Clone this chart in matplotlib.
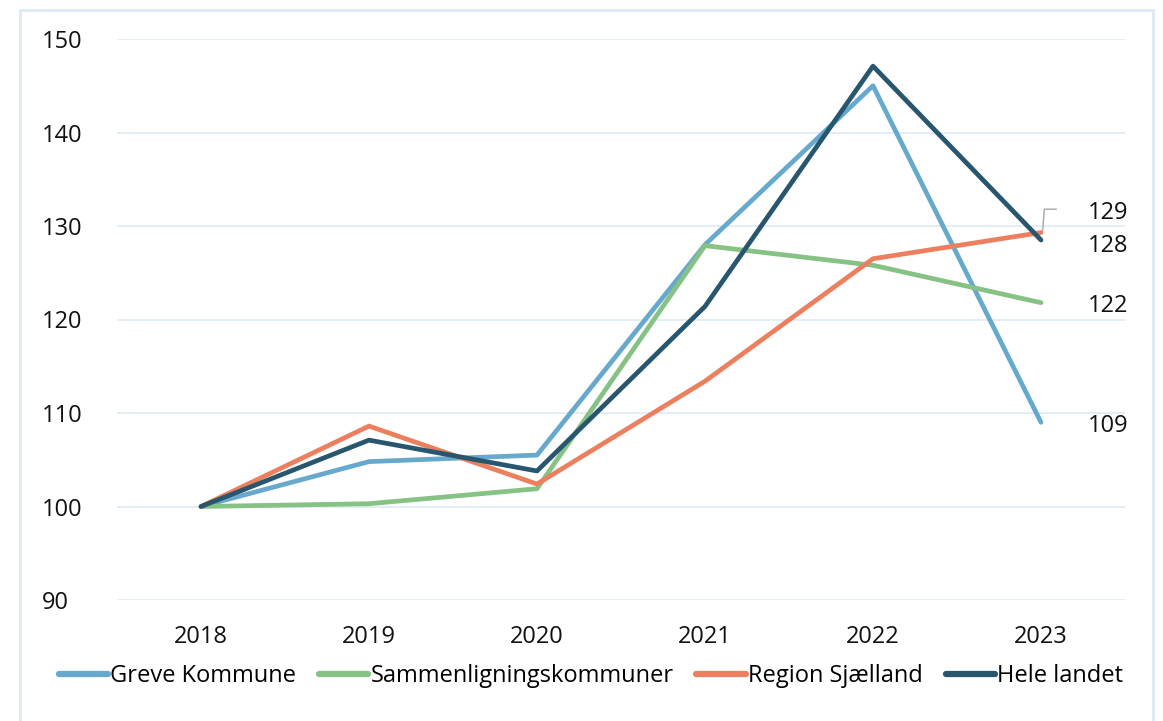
import matplotlib.pyplot as plt
from matplotlib.patches import Rectangle

plt.rcParams['font.family'] = ['Open Sans', 'DejaVu Sans']

years = ['2018', '2019', '2020', '2021', '2022', '2023']
greve = [100, 104.8, 105.5, 128.0, 145.0, 109.0]
sammen = [100, 100.3, 101.9, 127.9, 125.8, 121.8]
region = [100, 108.6, 102.4, 113.4, 126.5, 129.3]
hele = [100, 107.1, 103.8, 121.4, 147.1, 128.5]
names = ['Greve Kommune', 'Sammenligningskommuner', 'Region Sjælland', 'Hele landet']
colors = ['#67A9CC', '#85C284', '#EC7F5E', '#27566E']

grid_col = '#DDEAF4'

fig = plt.figure(figsize=(11.63, 7.21), dpi=100)
fig.patches.append(Rectangle((20 / 1163, -0.05), 1133 / 1163, 1.05 - 10 / 721,
                             transform=fig.transFigure, fill=False,
                             edgecolor=grid_col, linewidth=2))
ax = fig.add_axes([117 / 1163, 1 - 600 / 721, 1008 / 1163, 561 / 721])

x = range(len(years))
for vals, name, c in zip([greve, sammen, region, hele], names, colors):
    ax.plot(x, vals, color=c, linewidth=3.4, label=name, solid_capstyle='round')

ax.set_xlim(-0.5, 5.5)
ax.set_ylim(90, 150)
ax.set_yticks(range(90, 151, 10))
ax.set_xticks(list(x))
ax.set_xticklabels(years)
ax.yaxis.grid(True, color=grid_col, linewidth=1.2)
ax.set_axisbelow(True)
for s in ax.spines.values():
    s.set_visible(False)
ax.tick_params(axis='both', length=0, labelsize=17, colors='#111111')
ax.tick_params(axis='y', pad=54)
ax.tick_params(axis='x', pad=18)
for lbl in ax.get_yticklabels():
    lbl.set_horizontalalignment('left')

# end labels
ends = [109, 122, 128, 129]
label_y = [108.6, 121.4, 127.9, 131.4]
for txt, ly in zip(ends, label_y):
    ax.text(5.28, ly, str(txt), fontsize=17, va='center', ha='left', color='#111111')
ax.plot([5.01, 5.02, 5.09], [129.5, 131.8, 131.8], color='#A6A6A6', linewidth=1)

leg = fig.legend(loc='center', bbox_to_anchor=(591 / 1163, 1 - 676 / 721), ncol=4,
                 frameon=False, fontsize=17, handlelength=2.1, handletextpad=0.1,
                 columnspacing=0.95)
for h in leg.get_lines():
    h.set_linewidth(4.5)

fig.savefig('out.png', dpi=100)
